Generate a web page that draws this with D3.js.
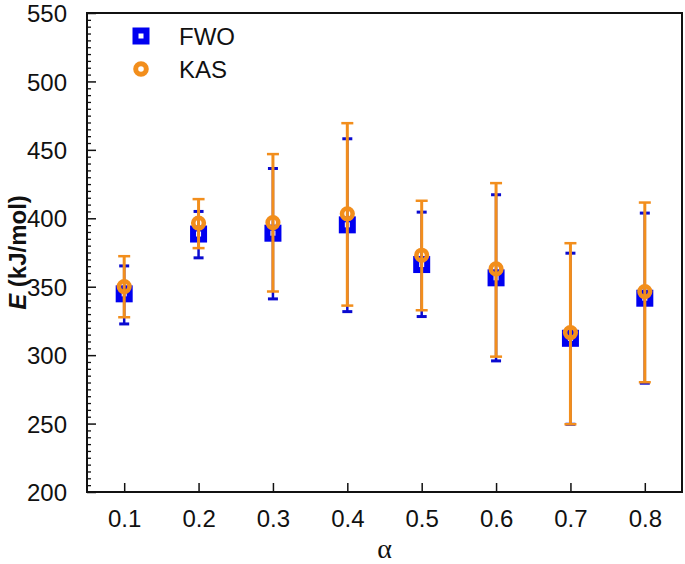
<!DOCTYPE html>
<html>
<head>
<meta charset="utf-8">
<script src="https://cdn.jsdelivr.net/npm/d3@7/dist/d3.min.js"></script>
<style>
  html, body { margin: 0; padding: 0; background: #fff; }
  svg { display: block; }
</style>
</head>
<body>
<svg id="chart" width="685" height="564"></svg>
<script>
// ---- data ----
const alphas = [0.1, 0.2, 0.3, 0.4, 0.5, 0.6, 0.7, 0.8];
const fwoE    = [344.8, 388.5, 389.1, 395.2, 366.2, 356.5, 312.3, 341.6];
const fwoHigh = [365.2, 405.0, 436.4, 458.1, 404.5, 417.2, 374.5, 403.8];
const fwoLow  = [322.8, 371.1, 341.1, 331.8, 328.2, 295.8, 249.5, 279.5];
const kasE    = [350.1, 396.5, 396.9, 403.3, 373.0, 363.0, 316.5, 346.5];
const kasHigh = [372.3, 414.0, 446.9, 469.5, 412.8, 425.7, 381.8, 411.5];
const kasLow  = [327.7, 378.2, 346.5, 336.2, 332.8, 298.9, 249.5, 280.2];
const xTicks = [0.1, 0.2, 0.3, 0.4, 0.5, 0.6, 0.7, 0.8];
const yTicks = [200, 250, 300, 350, 400, 450, 500, 550];
const seriesNames = ["FWO", "KAS"];

const blue = "#0000f0";
const blueDark = "#0a0ad0";
const orange = "#f28e1c";

const W = 685, H = 564;
const margin = { left: 87, right: 3, top: 13, bottom: 72 };
const svg = d3.select("#chart");

const x = d3.scaleLinear().domain([0.05, 0.85]).range([margin.left, W - margin.right]);
const y = d3.scaleLinear().domain([200, 550]).range([H - margin.bottom, margin.top]);

const font = "'Liberation Sans', Arial, sans-serif";

// frame
svg.append("rect")
  .attr("x", margin.left).attr("y", margin.top)
  .attr("width", W - margin.left - margin.right)
  .attr("height", H - margin.top - margin.bottom)
  .attr("fill", "none").attr("stroke", "#111").attr("stroke-width", 2);

// y minor ticks
const yMinor = d3.range(200, 551, 5).filter(v => v % 50 !== 0);
const yMinorAxis = d3.axisLeft(y).tickValues(yMinor).tickSize(-4).tickFormat("");
const gyMinor = svg.append("g").attr("transform", `translate(${margin.left},0)`).call(yMinorAxis);
gyMinor.select(".domain").remove();
gyMinor.selectAll("line").attr("stroke", "#111").attr("stroke-width", 1.3);

// y major axis
const yAxis = d3.axisLeft(y).tickValues(yTicks).tickSize(-9).tickPadding(20).tickFormat(d3.format("d"));
const gy = svg.append("g").attr("transform", `translate(${margin.left},0)`).call(yAxis);
gy.select(".domain").remove();
gy.selectAll("line").attr("stroke", "#111").attr("stroke-width", 1.5);
gy.selectAll("text").attr("font-family", font).attr("font-size", 24).attr("fill", "#111")
  .attr("dy", "0.36em");

// x axis
const xAxis = d3.axisBottom(x).tickValues(xTicks).tickSize(-9).tickPadding(18).tickFormat(d3.format(".1f"));
const gx = svg.append("g").attr("transform", `translate(0,${H - margin.bottom})`).call(xAxis);
gx.select(".domain").remove();
gx.selectAll("line").attr("stroke", "#111").attr("stroke-width", 1.5);
gx.selectAll("text").attr("font-family", font).attr("font-size", 24).attr("fill", "#111");

// axis titles
const yt = svg.append("text")
  .attr("transform", `translate(26,${(margin.top + H - margin.bottom) / 2}) rotate(-90)`)
  .attr("text-anchor", "middle")
  .attr("font-family", font).attr("font-size", 24).attr("font-weight", "bold").attr("fill", "#111");
yt.append("tspan").attr("font-style", "italic").text("E");
yt.append("tspan").text(" (kJ/mol)");

svg.append("text")
  .attr("x", (margin.left + W - margin.right) / 2).attr("y", 558)
  .attr("text-anchor", "middle")
  .attr("font-family", "'Liberation Serif', 'DejaVu Serif', serif").attr("font-size", 28).attr("fill", "#111")
  .text("α");

const idx = d3.range(alphas.length);

// FWO squares
const sq = 11;
svg.append("g").selectAll("rect").data(idx).join("rect")
  .attr("x", i => x(alphas[i]) - sq / 2).attr("y", i => y(fwoE[i]) - sq / 2)
  .attr("width", sq).attr("height", sq)
  .attr("fill", "#fff").attr("stroke", blue).attr("stroke-width", 6);

// FWO error bars
const gF = svg.append("g");
gF.selectAll("line.v").data(idx).join("line").attr("class", "v")
  .attr("x1", i => x(alphas[i])).attr("x2", i => x(alphas[i]))
  .attr("y1", i => y(fwoLow[i])).attr("y2", i => y(fwoHigh[i]))
  .attr("stroke", blueDark).attr("stroke-width", 2.5);
gF.selectAll("line.t").data(idx).join("line").attr("class", "t")
  .attr("x1", i => x(alphas[i]) - 5).attr("x2", i => x(alphas[i]) + 5)
  .attr("y1", i => y(fwoHigh[i])).attr("y2", i => y(fwoHigh[i]))
  .attr("stroke", blueDark).attr("stroke-width", 3);
gF.selectAll("line.b").data(idx).join("line").attr("class", "b")
  .attr("x1", i => x(alphas[i]) - 5).attr("x2", i => x(alphas[i]) + 5)
  .attr("y1", i => y(fwoLow[i])).attr("y2", i => y(fwoLow[i]))
  .attr("stroke", blueDark).attr("stroke-width", 3);

// KAS error bars
const gK = svg.append("g");
gK.selectAll("line.v").data(idx).join("line").attr("class", "v")
  .attr("x1", i => x(alphas[i])).attr("x2", i => x(alphas[i]))
  .attr("y1", i => y(kasLow[i])).attr("y2", i => y(kasHigh[i]))
  .attr("stroke", orange).attr("stroke-width", 3);
gK.selectAll("line.t").data(idx).join("line").attr("class", "t")
  .attr("x1", i => x(alphas[i]) - 6).attr("x2", i => x(alphas[i]) + 6)
  .attr("y1", i => y(kasHigh[i])).attr("y2", i => y(kasHigh[i]))
  .attr("stroke", orange).attr("stroke-width", 2.5);
gK.selectAll("line.b").data(idx).join("line").attr("class", "b")
  .attr("x1", i => x(alphas[i]) - 6).attr("x2", i => x(alphas[i]) + 6)
  .attr("y1", i => y(kasLow[i])).attr("y2", i => y(kasLow[i]))
  .attr("stroke", orange).attr("stroke-width", 2.5);

// KAS circles
svg.append("g").selectAll("circle").data(idx).join("circle")
  .attr("cx", i => x(alphas[i])).attr("cy", i => y(kasE[i])).attr("r", 5.3)
  .attr("fill", "none").attr("stroke", orange).attr("stroke-width", 4.6);

// legend
const lg = svg.append("g");
lg.append("rect").attr("x", 141 - sq / 2).attr("y", 36 - sq / 2).attr("width", sq).attr("height", sq)
  .attr("fill", "#fff").attr("stroke", blue).attr("stroke-width", 6);
lg.append("circle").attr("cx", 141).attr("cy", 69).attr("r", 5.3)
  .attr("fill", "none").attr("stroke", orange).attr("stroke-width", 5);
lg.selectAll("text").data(seriesNames).join("text")
  .attr("x", 179).attr("y", (d, i) => 36 + i * 33)
  .attr("dy", "0.36em")
  .attr("font-family", font).attr("font-size", 24).attr("fill", "#111")
  .text(d => d);
</script>
</body>
</html>
